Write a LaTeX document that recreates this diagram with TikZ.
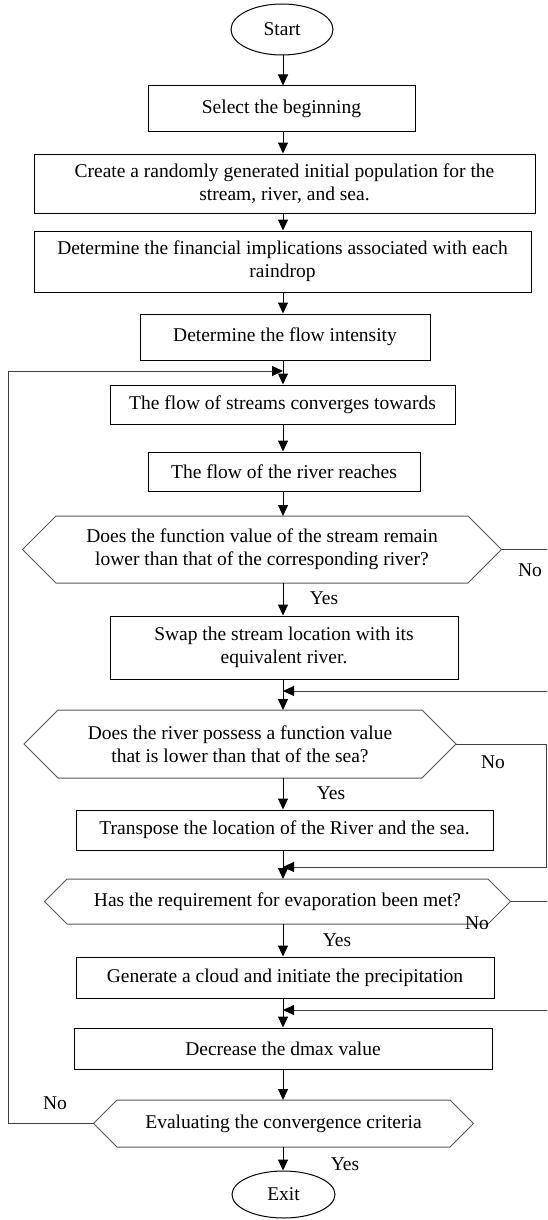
\documentclass[tikz,border=0pt]{standalone}
\usepackage{fontspec}
\setmainfont{Liberation Serif}
\usetikzlibrary{arrows.meta,calc,shapes.geometric}
\begin{document}
\begin{tikzpicture}[x=1pt,y=-1pt,
  every node/.style={font=\fontsize{19.5}{23}\selectfont},
  box/.style={draw=black,line width=1pt,rectangle,align=center,inner sep=0pt},
  term/.style={draw=black,line width=1pt,ellipse,inner sep=0pt},
  hexa/.style={rectangle,align=center,inner sep=0pt,outer sep=0pt},
  hexline/.style={draw=black!65,line width=1pt,line join=miter},
  arr/.style={draw=black,line width=1pt,-{Triangle[length=11pt,width=10pt]}},
  conn/.style={draw=black!75,line width=1pt,-{Triangle[length=11pt,width=10pt,color=black]}},
  lbl/.style={inner sep=0pt}
]
\useasboundingbox (0,0) rectangle (547,1220);
\clip (0,0) rectangle (547,1220);
\fill[white] (0,0) rectangle (547,1220);
\coordinate (spine) at (283,0);

% terminals and process boxes
\node[term,minimum width=102pt,minimum height=51pt] (start) at (282,29.5) {Start};
\node[box,minimum width=267pt,minimum height=46pt] (select) at (281.5,109) {Select the beginning};
\node[box,minimum width=501pt,minimum height=59pt] (create) at (284.5,183.5)
  {Create a randomly generated initial population for the\\stream, river, and sea.};
\node[box,minimum width=497pt,minimum height=61pt] (fin) at (282.5,261.5)
  {Determine the financial implications associated with each\\raindrop};
\node[box,minimum width=290pt,minimum height=46pt] (flow) at (285,337) {Determine the flow intensity};
\node[box,minimum width=345pt,minimum height=39pt] (streams) at (282.5,404.5) {The flow of streams converges towards};
\node[box,minimum width=272pt,minimum height=39pt] (river) at (284,471.5) {The flow of the river reaches};

% decision 1
\node[hexa,minimum width=412pt,minimum height=67pt] (d1) at (262,549.5)
  {Does the function value of the stream remain\\lower than that of the corresponding river?};
\coordinate (d1r) at ($(d1.east)+(33.5,0)$);
\coordinate (d1l) at ($(d1.west)-(33.5,0)$);
\draw[hexline] (d1.north west) -- (d1.north east) -- (d1r) -- (d1.south east) -- (d1.south west) -- (d1l) -- cycle;

\node[box,minimum width=348pt,minimum height=63pt] (swap) at (284,647.5)
  {Swap the stream location with its\\equivalent river.};

% decision 2
\node[hexa,minimum width=364pt,minimum height=68pt] (d2) at (240,744)
  {Does the river possess a function value\\that is lower than that of the sea?};
\coordinate (d2r) at ($(d2.east)+(34,0)$);
\coordinate (d2l) at ($(d2.west)-(34,0)$);
\draw[hexline] (d2.north west) -- (d2.north east) -- (d2r) -- (d2.south east) -- (d2.south west) -- (d2l) -- cycle;

\node[box,minimum width=417pt,minimum height=40pt] (trans) at (284.5,830)
  {Transpose the location of the River and the sea.};

% decision 3
\node[hexa,minimum width=421pt,minimum height=45pt] (d3) at (277.5,901.5)
  {Has the requirement for evaporation been met?};
\coordinate (d3r) at ($(d3.east)+(22.5,0)$);
\coordinate (d3l) at ($(d3.west)-(22.5,0)$);
\draw[hexline] (d3.north west) -- (d3.north east) -- (d3r) -- (d3.south east) -- (d3.south west) -- (d3l) -- cycle;

\node[box,minimum width=418pt,minimum height=41pt] (gen) at (285,977.5)
  {Generate a cloud and initiate the precipitation};
\node[box,minimum width=418pt,minimum height=41pt] (dec) at (283,1048.5)
  {Decrease the dmax value};

% decision 4
\node[hexa,minimum width=333pt,minimum height=47pt] (d4) at (283.5,1123.5)
  {Evaluating the convergence criteria};
\coordinate (d4r) at ($(d4.east)+(23.5,0)$);
\coordinate (d4l) at ($(d4.west)-(23.5,0)$);
\draw[hexline] (d4.north west) -- (d4.north east) -- (d4r) -- (d4.south east) -- (d4.south west) -- (d4l) -- cycle;

\node[term,minimum width=103pt,minimum height=47pt] (exit) at (283.5,1194.5) {Exit};

% merge points and bends
\coordinate (m0) at (283,371);
\coordinate (m1) at (283,691);
\coordinate (m2) at (283,867);
\coordinate (m3) at (283,1010);
\coordinate (c0) at (8,1123.5);
\coordinate (c1) at (553,549.5);
\coordinate (c2) at (546,744);
\coordinate (c3) at (553,901.5);

% main flow
\draw[arr] (start.south -| spine) -- (select.north -| spine);
\draw[arr] (select.south -| spine) -- (create.north -| spine);
\draw[arr] (create.south -| spine) -- (fin.north -| spine);
\draw[arr] (fin.south -| spine) -- (flow.north -| spine);
\draw[arr] (flow.south -| spine) -- (streams.north -| spine);
\draw[arr] (streams.south -| spine) -- (river.north -| spine);
\draw[arr] (river.south -| spine) -- (d1.north -| spine);
\draw[arr] (d1.south -| spine) -- (swap.north -| spine);
\draw[arr] (swap.south -| spine) -- (d2.north -| spine);
\draw[arr] (d2.south -| spine) -- (trans.north -| spine);
\draw[arr] (trans.south -| spine) -- (d3.north -| spine);
\draw[arr] (d3.south -| spine) -- (gen.north -| spine);
\draw[arr] (gen.south -| spine) -- (dec.north -| spine);
\draw[arr] (dec.south -| spine) -- (d4.north -| spine);
\draw[arr] (d4.south -| spine) -- (exit.north -| spine);

% No branches
\draw[conn] (d1r) -- (c1) |- (m1);
\draw[conn] (d2r) -- (c2) |- (m2);
\draw[conn] (d3r) -- (c3) |- (m3);
\draw[conn] (d4l) -- (c0) |- (m0);

% labels
\node[lbl] (y1) at (324,598) {Yes};
\node[lbl] (y2) at (331,793) {Yes};
\node[lbl] (y3) at (337,940) {Yes};
\node[lbl] (y4) at (345,1164) {Yes};
\node[lbl] (n1) at (530,570) {No};
\node[lbl] (n2) at (493,762) {No};
\node[lbl] (n3) at (477,923) {No};
\node[lbl] (n4) at (55,1103) {No};
\end{tikzpicture}
\end{document}
